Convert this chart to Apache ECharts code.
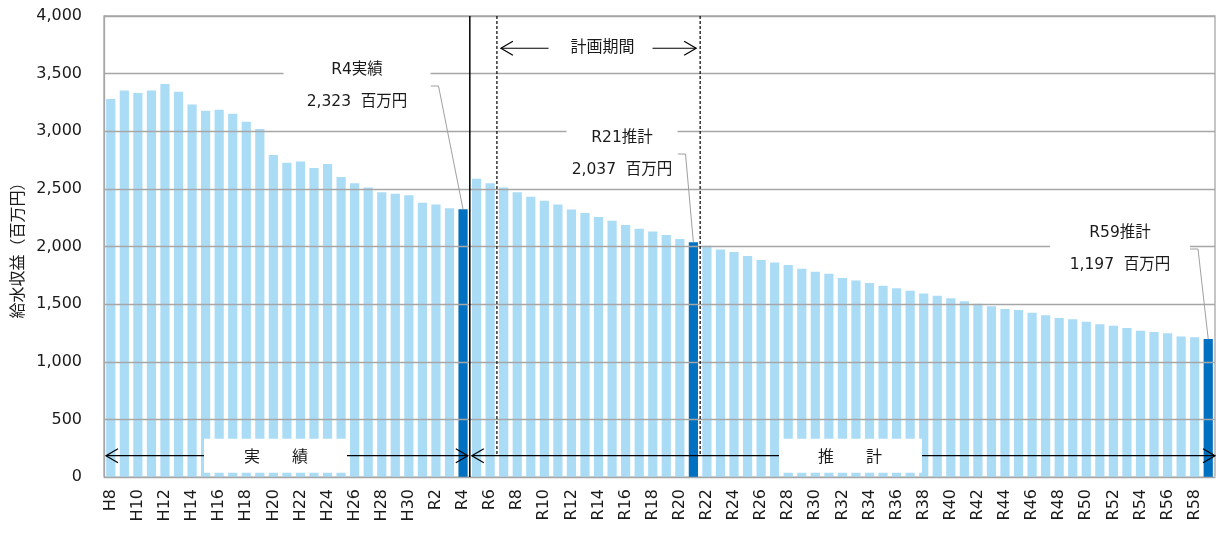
<!DOCTYPE html>
<html>
<head>
<meta charset="utf-8">
<script src="https://cdn.jsdelivr.net/npm/echarts@6/dist/echarts.min.js"></script>
<style>
  html, body { margin: 0; padding: 0; background: #ffffff; }
  #chart { width: 1218px; height: 546px; }
</style>
</head>
<body>
<div id="chart"></div>
<script>
// Fiscal years: Heisei 8–30, then Reiwa 1–59
const CATEGORIES = [
  'H8','H9','H10','H11','H12','H13','H14','H15','H16','H17','H18','H19','H20',
  'H21','H22','H23','H24','H25','H26','H27','H28','H29','H30',
  'R1','R2','R3','R4','R5','R6','R7','R8','R9','R10','R11','R12','R13','R14',
  'R15','R16','R17','R18','R19','R20','R21','R22','R23','R24','R25','R26','R27',
  'R28','R29','R30','R31','R32','R33','R34','R35','R36','R37','R38','R39','R40',
  'R41','R42','R43','R44','R45','R46','R47','R48','R49','R50','R51','R52','R53',
  'R54','R55','R56','R57','R58','R59'
];

// Water supply revenue, million yen — results H8–R4
const ACTUAL = [
  3280, 3354, 3332, 3354, 3410, 3343, 3233, 3178, 3187, 3152, 3083, 3019,
  2794, 2727, 2738, 2681, 2716, 2603, 2548, 2513, 2470, 2458, 2444,
  2380, 2365, 2331, 2323
];

// Projection R5–R59
const PROJECTED = [
  2588, 2548, 2513, 2470, 2432, 2397, 2365, 2322, 2291, 2256,
  2224, 2186, 2154, 2131, 2100, 2065, 2037, 2007, 1975, 1952,
  1917, 1883, 1862, 1839, 1807, 1781,
  1764, 1727, 1706, 1683, 1660, 1637, 1617, 1593, 1573, 1550,
  1524, 1504, 1481, 1458, 1449, 1426, 1403, 1380, 1368, 1348,
  1325, 1313, 1293, 1270, 1258, 1247, 1220, 1212, 1197
];

const VALUES = ACTUAL.concat(PROJECTED);

// Emphasised years and their callout titles
const HIGHLIGHT = ['R4', 'R21', 'R59'];
const CALLOUT_TITLES = { R4: 'R4実績', R21: 'R21推計', R59: 'R59推計' };
const UNIT = '百万円';

// Period markers
const LAST_ACTUAL = 'R4';
const PLAN_FIRST = 'R7';
const PLAN_LAST = 'R21';
const LABEL_ACTUAL = '実　　績';
const LABEL_PROJECTED = '推　　計';
const LABEL_PLAN = '計画期間';
const Y_NAME = '給水収益（百万円）';

const Y_MIN = 0, Y_MAX = 4000, Y_STEP = 500;

// ---- styling / layout ----
const FONT = "'DejaVu Sans', 'Noto Sans CJK JP', sans-serif";
const CJK = "'Noto Sans CJK JP', sans-serif";
const LIGHT = '#abdcf6';
const DARK = '#0070c0';
const GRID_GRAY = '#a6a6a6';
const TEXT = '#1a1a1a';

const chart = echarts.init(document.getElementById('chart'), null, { renderer: 'canvas' });

const barData = VALUES.map((v, i) => ({
  value: v,
  itemStyle: { color: HIGHLIGHT.includes(CATEGORIES[i]) ? DARK : LIGHT }
}));

chart.setOption({
  animation: false,
  backgroundColor: '#ffffff',
  textStyle: { fontFamily: FONT },
  grid: {
    left: 104, top: 16, width: 1111, height: 461,
    show: true, borderColor: GRID_GRAY, borderWidth: 1.3, backgroundColor: 'transparent'
  },
  xAxis: {
    type: 'category',
    data: CATEGORIES,
    boundaryGap: true,
    axisLine: { show: true, lineStyle: { color: '#d9d9d9', width: 2 } },
    axisTick: { show: false },
    splitLine: { show: false },
    axisLabel: {
      interval: 1, rotate: 90, margin: 12,
      fontSize: 16, fontFamily: FONT, color: TEXT
    }
  },
  yAxis: {
    type: 'value',
    min: Y_MIN, max: Y_MAX, interval: Y_STEP,
    z: 5,
    name: Y_NAME,
    nameLocation: 'middle',
    nameGap: 76,
    nameRotate: 90,
    nameTextStyle: { fontSize: 16, fontFamily: CJK, color: TEXT },
    axisLine: { show: true, lineStyle: { color: GRID_GRAY, width: 1.3 } },
    axisTick: { show: false },
    splitLine: { show: true, lineStyle: { color: GRID_GRAY, width: 1.3 } },
    axisLabel: {
      margin: 22, fontSize: 16, fontFamily: FONT, color: TEXT,
      formatter: v => v.toLocaleString('en-US')
    }
  },
  series: [{
    type: 'bar',
    data: barData,
    barCategoryGap: '32%',
    z: 2
  }]
});

// ---- annotations positioned through the axes ----
const xOf = c => chart.convertToPixel({ xAxisIndex: 0 }, c);
const yOf = v => chart.convertToPixel({ yAxisIndex: 0 }, v);
const idx = c => CATEGORIES.indexOf(c);
const boundaryAfter = c => (xOf(CATEGORIES[idx(c)]) + xOf(CATEGORIES[idx(c) + 1])) / 2;

const band = xOf(CATEGORIES[1]) - xOf(CATEGORIES[0]);
const plotLeft = xOf(CATEGORIES[0]) - band / 2;
const plotRight = xOf(CATEGORIES[CATEGORIES.length - 1]) + band / 2;
const plotTop = yOf(Y_MAX);
const plotBottom = yOf(Y_MIN);

const arrowY = yOf(185);
const planY = yOf(3720);
const splitX = boundaryAfter(LAST_ACTUAL);
const planX1 = boundaryAfter(CATEGORIES[idx(PLAN_FIRST) - 1]);
const planX2 = boundaryAfter(PLAN_LAST);

const Z = 100;
const els = [];

function line(x1, y1, x2, y2, style) {
  els.push({ type: 'line', z: Z, shape: { x1, y1, x2, y2 }, style: Object.assign({ stroke: '#000', lineWidth: 1.2 }, style || {}) });
}
function head(x, y, dir) {
  // open chevron arrow head; dir = -1 points left, +1 points right
  els.push({
    type: 'polyline', z: Z,
    shape: { points: [[x - dir * 12, y - 7], [x, y], [x - dir * 12, y + 7]] },
    style: { stroke: '#000', lineWidth: 1.2, fill: null }
  });
}
function box(x, y, w, h, z) {
  els.push({ type: 'rect', z: z || Z + 1, shape: { x, y, width: w, height: h }, style: { fill: '#ffffff' } });
}
function text(str, x, y, size, family, z) {
  els.push({
    type: 'text', z: z || Z + 2, x, y,
    style: { text: str, fill: TEXT, fontSize: size, fontFamily: family || FONT, align: 'center', verticalAlign: 'middle' }
  });
}

// boundary between results and projection
line(splitX, plotTop, splitX, plotBottom, { lineWidth: 1.5 });

// planning period boundaries
line(planX1, plotTop, planX1, arrowY, { lineDash: [3, 2] });
line(planX2, plotTop, planX2, arrowY, { lineDash: [3, 2] });

// results arrow
line(plotLeft + 2, arrowY, splitX - 2, arrowY);
head(plotLeft + 2, arrowY, -1);
head(splitX - 2, arrowY, 1);
box(204, arrowY - 17, 143, 34);
text(LABEL_ACTUAL, 276, arrowY, 16, CJK);

// projection arrow
line(splitX + 2, arrowY, plotRight, arrowY);
head(splitX + 2, arrowY, -1);
head(plotRight, arrowY, 1);
box(779, arrowY - 17, 143, 34);
text(LABEL_PROJECTED, 850, arrowY, 16, CJK);

// planning period arrow
const planMid = (planX1 + planX2) / 2;
line(planX1 + 4, planY, planMid - 50, planY);
line(planMid + 54, planY, planX2 - 4, planY);
head(planX1 + 4, planY, -1);
head(planX2 - 4, planY, 1);
text(LABEL_PLAN, planMid + 4, planY - 2, 16, CJK);

// value callouts with leader lines to the bar tops
const CALLOUT_BOX = {
  R4:  { cx: 357,  cy: 86,  w: 147 },
  R21: { cx: 622,  cy: 154, w: 111 },
  R59: { cx: 1120, cy: 249, w: 140 }
};
HIGHLIGHT.forEach(c => {
  const b = CALLOUT_BOX[c];
  const v = VALUES[idx(c)];
  const right = b.cx + b.w / 2;
  box(b.cx - b.w / 2, b.cy - 31, b.w, 62);
  text(CALLOUT_TITLES[c], b.cx, b.cy - 16, 15.5);
  text(v.toLocaleString('en-US') + '  ' + UNIT, b.cx, b.cy + 16, 15.5);
  els.push({
    type: 'polyline', z: Z,
    shape: { points: [[right, b.cy], [right + 8, b.cy], [xOf(c), yOf(v)]] },
    style: { stroke: '#a0a0a0', lineWidth: 1, fill: null }
  });
});

chart.setOption({ graphic: { elements: els } });
</script>
</body>
</html>
